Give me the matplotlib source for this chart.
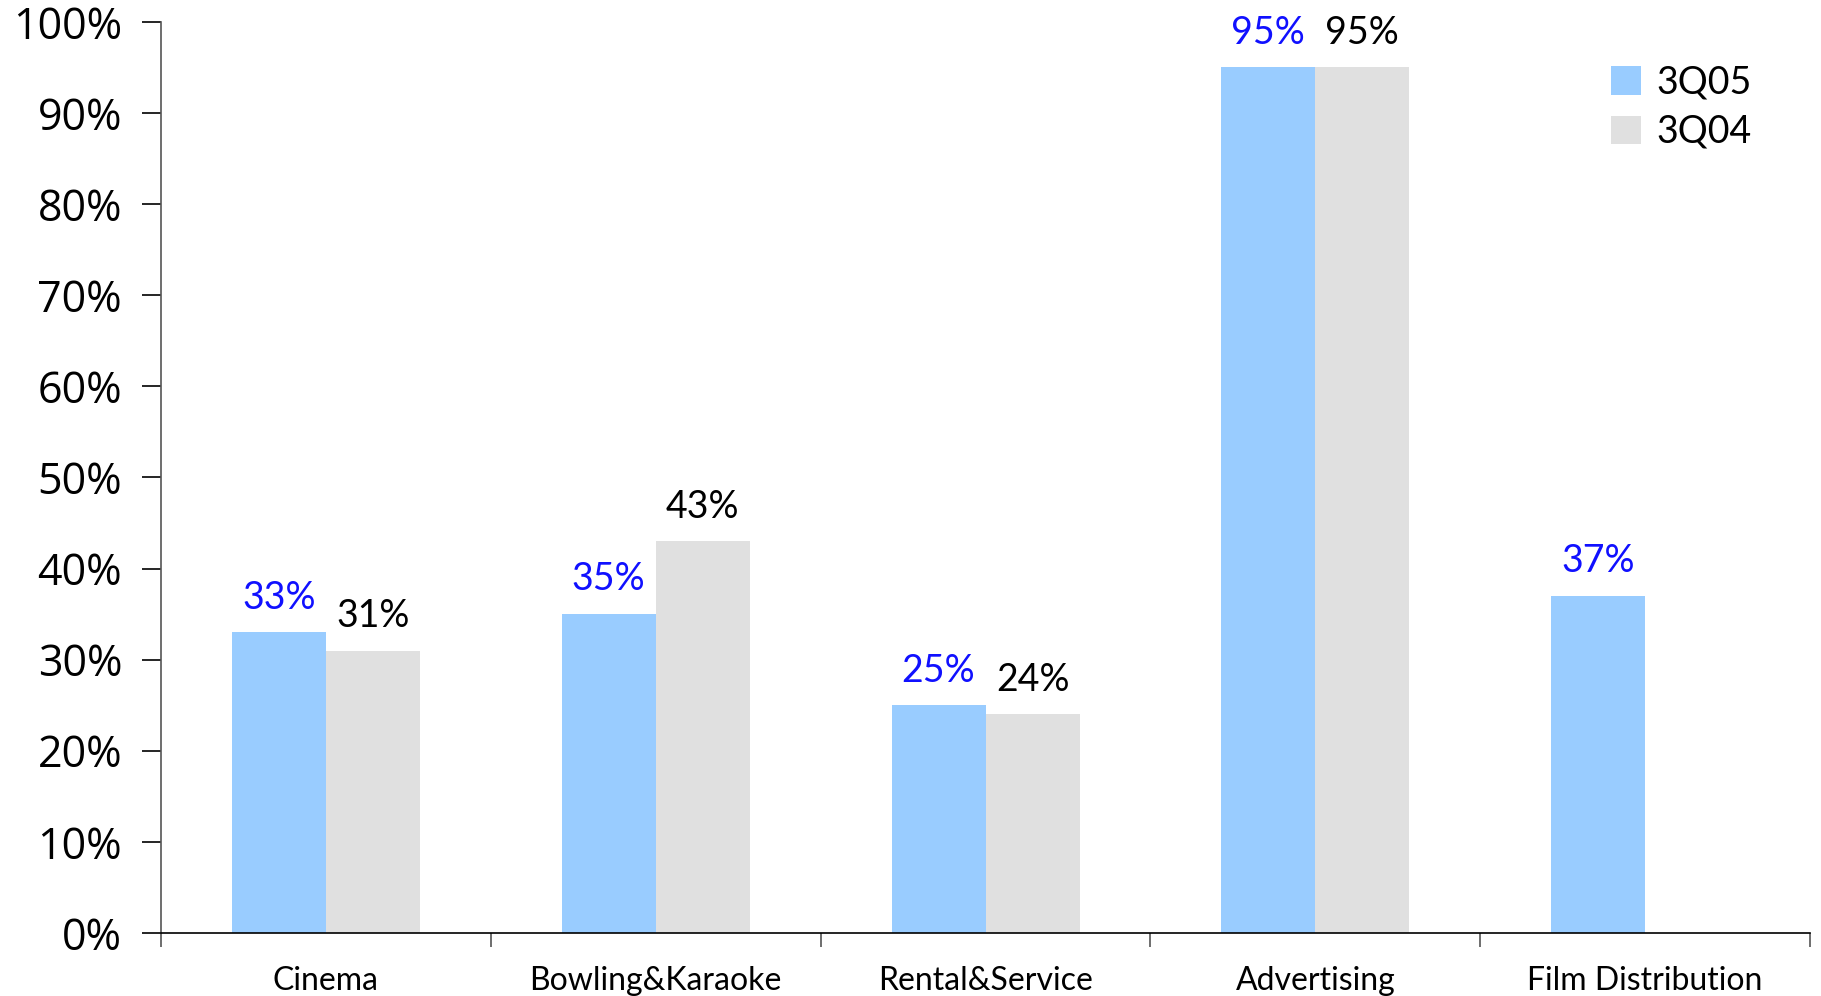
import matplotlib
matplotlib.use("Agg")
import matplotlib.pyplot as plt
import numpy as np

categories = ["Cinema", "Bowling&Karaoke", "Rental&Service", "Advertising", "Film Distribution"]
q05 = [33, 35, 25, 95, 37]
q04 = [31, 43, 24, 95, None]
series_names = ["3Q05", "3Q04"]
y_ticks = list(range(0, 101, 10))

BLUE = "#99CCFF"
GRAY = "#E0E0E0"
LABEL_BLUE = "#1010FF"
LABEL_FONT = "Lato"

fig = plt.figure(figsize=(18.21, 9.96), dpi=100)
ax = fig.add_axes([0.0884, 0.0633, 0.9056, 0.9147])

x = np.arange(len(categories))
w = 0.285

bars05 = ax.bar(x - w / 2, q05, width=w, color=BLUE, label=series_names[0])
x04 = [xi + w / 2 for xi, v in zip(x, q04) if v is not None]
v04 = [v for v in q04 if v is not None]
bars04 = ax.bar(x04, v04, width=w, color=GRAY, label=series_names[1])

for b, v in zip(bars05, q05):
    ax.annotate(f"{v}%", (b.get_x() + b.get_width() / 2, v), xytext=(0, 12),
                textcoords="offset points", ha="center", va="bottom",
                fontsize=27, color=LABEL_BLUE, family=LABEL_FONT)
for b, v in zip(bars04, v04):
    ax.annotate(f"{v}%", (b.get_x() + b.get_width() / 2, v), xytext=(0, 12),
                textcoords="offset points", ha="center", va="bottom",
                fontsize=27, color="black", family=LABEL_FONT)

ax.set_xlim(-0.5, len(categories) - 0.5)
ax.set_ylim(0, 100)

ax.set_yticks(y_ticks)
ax.set_yticklabels([f"{t}%" for t in y_ticks], fontsize=31, family="Open Sans")
ax.tick_params(axis="y", length=14, width=1.2, pad=14)

ax.set_xticks(np.arange(-0.5, len(categories), 1.0))
ax.set_xticklabels([])
ax.tick_params(axis="x", which="major", length=10, width=1.2, color="#555555")
ax.set_xticks(x, minor=True)
ax.set_xticklabels(categories, minor=True, fontsize=23, family=LABEL_FONT)
ax.tick_params(axis="x", which="minor", length=0, pad=24)

for s in ["top", "right"]:
    ax.spines[s].set_visible(False)
ax.spines["left"].set_color("#555555")
ax.spines["bottom"].set_color("black")
ax.spines["left"].set_linewidth(1.2)
ax.spines["bottom"].set_linewidth(1.2)

leg = ax.legend(loc="upper right", bbox_to_anchor=(0.985, 0.99), frameon=False,
                prop={"family": LABEL_FONT, "size": 27},
                handlelength=0.8, handleheight=0.8, handletextpad=0.4,
                labelspacing=0.35)

fig.savefig("out.png", dpi=100)
